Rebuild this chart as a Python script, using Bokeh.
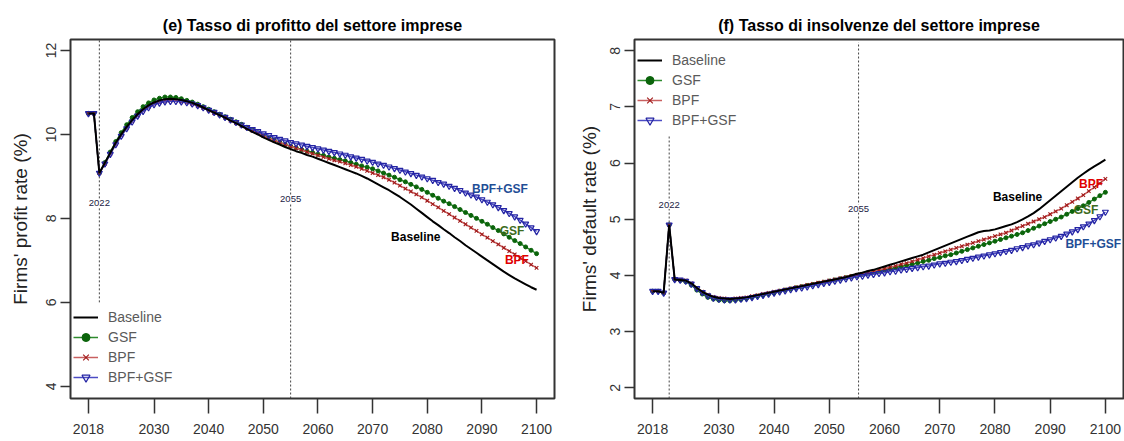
from bokeh.plotting import figure
from bokeh.layouts import row
from bokeh.models import FixedTicker, Legend, LegendItem, Range1d
from bokeh.embed import file_html
from bokeh.resources import INLINE
from bokeh.core.properties import value

# ---------------- data ----------------
years = list(range(2018, 2101))
x_ticks = [2018, 2030, 2040, 2050, 2060, 2070, 2080, 2090, 2100]

# (e) firms' profit rate (%)
profit_baseline = [10.50, 10.50,
    9.08, 9.32, 9.56, 9.80, 10.00, 10.18, 10.34, 10.48, 10.60, 10.69,
    10.76, 10.81, 10.84, 10.85, 10.84, 10.82, 10.79, 10.75, 10.70, 10.64,
    10.58, 10.52, 10.46, 10.40, 10.33, 10.27, 10.20, 10.13, 10.06, 10.00,
    9.93, 9.87, 9.81, 9.76, 9.70, 9.65, 9.60, 9.56, 9.51, 9.47,
    9.42, 9.37, 9.32, 9.27, 9.22, 9.17, 9.12, 9.07, 9.01, 8.95,
    8.88, 8.81, 8.74, 8.67, 8.59, 8.51, 8.42, 8.33, 8.23, 8.13,
    8.03, 7.93, 7.84, 7.74, 7.65, 7.55, 7.46, 7.36, 7.27, 7.18,
    7.09, 7.00, 6.91, 6.82, 6.73, 6.65, 6.57, 6.50, 6.43, 6.36,
    6.30]
profit_gsf = [10.50, 10.50,
    9.08, 9.33, 9.58, 9.83, 10.04, 10.23, 10.40, 10.54, 10.66, 10.75,
    10.82, 10.86, 10.89, 10.89, 10.88, 10.85, 10.81, 10.77, 10.72, 10.66,
    10.60, 10.54, 10.48, 10.42, 10.36, 10.30, 10.24, 10.17, 10.10, 10.04,
    9.97, 9.92, 9.86, 9.81, 9.76, 9.72, 9.68, 9.64, 9.60, 9.57,
    9.53, 9.50, 9.46, 9.43, 9.40, 9.37, 9.33, 9.29, 9.25, 9.22,
    9.18, 9.13, 9.08, 9.03, 8.98, 8.92, 8.87, 8.81, 8.75, 8.69,
    8.62, 8.55, 8.48, 8.41, 8.35, 8.28, 8.21, 8.14, 8.07, 8.00,
    7.93, 7.86, 7.78, 7.71, 7.63, 7.55, 7.47, 7.40, 7.32, 7.24,
    7.16]
profit_bpf = [10.50, 10.50,
    9.08, 9.30, 9.53, 9.77, 9.97, 10.15, 10.31, 10.45, 10.56, 10.65,
    10.72, 10.76, 10.79, 10.80, 10.80, 10.78, 10.76, 10.72, 10.68, 10.63,
    10.57, 10.51, 10.46, 10.40, 10.33, 10.27, 10.21, 10.15, 10.09, 10.03,
    9.97, 9.91, 9.86, 9.81, 9.76, 9.71, 9.67, 9.63, 9.58, 9.54,
    9.50, 9.46, 9.42, 9.38, 9.35, 9.31, 9.27, 9.23, 9.18, 9.13,
    9.08, 9.03, 8.98, 8.92, 8.85, 8.78, 8.71, 8.64, 8.57, 8.50,
    8.42, 8.34, 8.26, 8.18, 8.10, 8.02, 7.94, 7.86, 7.78, 7.70,
    7.62, 7.54, 7.46, 7.38, 7.30, 7.22, 7.14, 7.06, 6.98, 6.90,
    6.82]
profit_bpf_gsf = [10.50, 10.50,
    9.08, 9.30, 9.53, 9.76, 9.96, 10.14, 10.30, 10.44, 10.55, 10.64,
    10.71, 10.75, 10.78, 10.79, 10.79, 10.78, 10.76, 10.73, 10.69, 10.64,
    10.58, 10.53, 10.47, 10.41, 10.35, 10.29, 10.23, 10.17, 10.12, 10.07,
    10.02, 9.98, 9.93, 9.89, 9.85, 9.81, 9.78, 9.75, 9.72, 9.69,
    9.66, 9.63, 9.60, 9.57, 9.54, 9.51, 9.47, 9.44, 9.41, 9.37,
    9.34, 9.30, 9.27, 9.23, 9.19, 9.15, 9.11, 9.07, 9.03, 8.99,
    8.95, 8.91, 8.86, 8.82, 8.77, 8.72, 8.67, 8.61, 8.56, 8.51,
    8.45, 8.39, 8.33, 8.26, 8.19, 8.12, 8.04, 7.96, 7.87, 7.78,
    7.69]

# (f) firms' default rate (%)
default_baseline = [3.72, 3.72,
    3.69, 4.90, 3.93, 3.92, 3.91, 3.86, 3.78, 3.71, 3.66, 3.62,
    3.60, 3.59, 3.58, 3.59, 3.60, 3.61, 3.63, 3.65, 3.67, 3.69,
    3.71, 3.73, 3.75, 3.77, 3.79, 3.81, 3.83, 3.85, 3.87, 3.89,
    3.91, 3.93, 3.95, 3.97, 4.00, 4.03, 4.05, 4.08, 4.10, 4.13,
    4.16, 4.19, 4.22, 4.25, 4.28, 4.31, 4.34, 4.37, 4.41, 4.45,
    4.49, 4.53, 4.57, 4.61, 4.65, 4.69, 4.73, 4.77, 4.79, 4.80,
    4.82, 4.85, 4.88, 4.91, 4.95, 5.00, 5.05, 5.11, 5.18, 5.26,
    5.34, 5.42, 5.50, 5.58, 5.66, 5.74, 5.81, 5.88, 5.94, 6.00,
    6.06]
default_gsf = [3.72, 3.72,
    3.69, 4.90, 3.93, 3.91, 3.89, 3.83, 3.74, 3.67, 3.61, 3.58,
    3.56, 3.55, 3.55, 3.56, 3.57, 3.59, 3.61, 3.63, 3.65, 3.67,
    3.69, 3.72, 3.74, 3.76, 3.78, 3.80, 3.82, 3.84, 3.86, 3.88,
    3.90, 3.92, 3.94, 3.96, 3.98, 4.00, 4.02, 4.04, 4.06, 4.08,
    4.10, 4.12, 4.14, 4.16, 4.18, 4.20, 4.22, 4.25, 4.27, 4.30,
    4.32, 4.35, 4.37, 4.40, 4.43, 4.46, 4.49, 4.52, 4.55, 4.58,
    4.61, 4.64, 4.67, 4.70, 4.73, 4.76, 4.80, 4.84, 4.88, 4.92,
    4.96, 5.00, 5.04, 5.09, 5.14, 5.19, 5.24, 5.30, 5.36, 5.42,
    5.48]
default_bpf = [3.72, 3.72,
    3.69, 4.90, 3.93, 3.92, 3.91, 3.86, 3.78, 3.71, 3.66, 3.62,
    3.60, 3.59, 3.58, 3.59, 3.60, 3.61, 3.63, 3.65, 3.67, 3.69,
    3.71, 3.73, 3.75, 3.77, 3.79, 3.81, 3.83, 3.85, 3.87, 3.89,
    3.91, 3.93, 3.95, 3.97, 3.99, 4.01, 4.03, 4.05, 4.07, 4.10,
    4.12, 4.15, 4.17, 4.20, 4.22, 4.25, 4.28, 4.31, 4.34, 4.37,
    4.40, 4.43, 4.46, 4.49, 4.52, 4.55, 4.58, 4.61, 4.64, 4.67,
    4.70, 4.73, 4.76, 4.80, 4.84, 4.88, 4.92, 4.96, 5.00, 5.04,
    5.09, 5.14, 5.19, 5.25, 5.31, 5.37, 5.43, 5.50, 5.57, 5.64,
    5.72]
default_bpf_gsf = [3.72, 3.72,
    3.69, 4.90, 3.93, 3.92, 3.90, 3.85, 3.77, 3.70, 3.64, 3.60,
    3.58, 3.57, 3.57, 3.57, 3.58, 3.59, 3.61, 3.63, 3.65, 3.67,
    3.69, 3.71, 3.73, 3.75, 3.77, 3.78, 3.80, 3.82, 3.84, 3.86,
    3.88, 3.90, 3.92, 3.94, 3.96, 3.98, 3.99, 4.01, 4.02, 4.04,
    4.05, 4.07, 4.08, 4.10, 4.11, 4.13, 4.14, 4.16, 4.17, 4.19,
    4.21, 4.22, 4.24, 4.25, 4.27, 4.29, 4.31, 4.33, 4.35, 4.37,
    4.39, 4.41, 4.43, 4.45, 4.48, 4.50, 4.53, 4.55, 4.58, 4.61,
    4.64, 4.67, 4.70, 4.74, 4.78, 4.82, 4.87, 4.92, 4.98, 5.05,
    5.13]

series_names = ["Baseline", "GSF", "BPF", "BPF+GSF"]

# reference years marked with dotted lines
left_event_x = [2020, 2055]
left_event_lo = [6.0, 3.71]
left_event_hi = [12.26, 12.26]
left_event_text = ["2022", "2055"]
left_event_label_y = [8.36, 8.45]

right_event_x = [2021, 2055.3]
right_event_lo = [1.81, 1.81]
right_event_hi = [6.5, 8.15]
right_event_text = ["2022", "2055"]
right_event_label_y = [5.26, 5.19]

# end-of-line series labels
left_lab_text = ["BPF+GSF", "GSF", "BPF", "Baseline"]
left_lab_x = [2093.3, 2095.5, 2096.4, 2077.9]
left_lab_y = [8.71, 7.71, 7.02, 7.55]
right_lab_text = ["Baseline", "BPF", "GSF", "BPF+GSF"]
right_lab_x = [2084.1, 2097.4, 2096.5, 2097.8]
right_lab_y = [5.40, 5.62, 5.17, 4.56]

# ---------------- style ----------------
FONT = "Liberation Sans"
LINE_COL = {"Baseline": "black", "GSF": "#2e8b2e", "BPF": "#c86060", "BPF+GSF": "#4c4cc4"}
MARK_COL = {"GSF": "#0b640b", "BPF": "#a01818", "BPF+GSF": "#2424a4"}
LAB_COL = {"Baseline": "black", "GSF": "#3d6b1e", "BPF": "#e00000", "BPF+GSF": "#1f4e96"}


def make_panel(title, ylabel, y_lo, y_hi, yticks, data, ev, labs, legend_loc,
               bl, br, axis_std):
    p = figure(width=562, height=441, output_backend="svg", toolbar_location=None,
               x_range=Range1d(2014.72, 2103.28), y_range=Range1d(y_lo, y_hi),
               min_border_left=bl, min_border_right=br, min_border_top=39,
               min_border_bottom=43)
    p.title.text = title
    p.title.align = "center"
    p.title.text_font = FONT
    p.title.text_font_size = "16px"
    p.title.text_font_style = "bold"
    p.title.text_color = "black"
    p.title.standoff = 12
    p.grid.visible = False
    p.outline_line_color = "#333333"
    p.outline_line_width = 2
    p.outline_line_alpha = 1

    p.xaxis.ticker = FixedTicker(ticks=x_ticks)
    p.yaxis.ticker = FixedTicker(ticks=yticks)
    for ax in (p.xaxis[0], p.yaxis[0]):
        ax.axis_line_color = None
        ax.major_tick_line_color = "#333333"
        ax.major_tick_line_width = 1.5
        ax.minor_tick_line_color = None
        ax.major_tick_in = 0
        ax.major_label_text_font = FONT
        ax.major_label_text_font_size = "14px"
        ax.major_label_text_color = "#333333"
    p.xaxis.major_tick_out = 15
    p.xaxis.major_label_standoff = 10
    p.yaxis.major_tick_out = 10
    p.yaxis.major_label_standoff = 4
    p.yaxis.major_label_orientation = "vertical"
    p.yaxis.axis_label = ylabel
    p.yaxis.axis_label_text_font = FONT
    p.yaxis.axis_label_text_font_size = "19px"
    p.yaxis.axis_label_text_font_style = "normal"
    p.yaxis.axis_label_text_color = "#222222"
    p.yaxis.axis_label_standoff = axis_std

    # dotted reference lines
    ex, elo, ehi, etxt, ely = ev
    p.segment(x0=ex, y0=elo, x1=ex, y1=ehi, line_color="#444444",
              line_width=1, line_dash="2 2")
    p.text(x=ex, y=ely, text=etxt, text_align="center", text_baseline="middle",
           text_font=value(FONT), text_font_size="9.5px", text_color="#222244",
           background_fill_color="white", padding=1)

    base, gsf, bpf, both = data
    r_gsf_l = p.line(years, gsf, line_color=LINE_COL["GSF"], line_width=1.5)
    r_gsf_m = p.scatter(years, gsf, marker="circle", size=4,
                        fill_color=MARK_COL["GSF"], line_color=MARK_COL["GSF"])
    r_bpf_l = p.line(years, bpf, line_color=LINE_COL["BPF"], line_width=1.5)
    r_bpf_m = p.scatter(years, bpf, marker="x", size=5,
                        line_color=MARK_COL["BPF"], line_width=1.1)
    r_bg_l = p.line(years, both, line_color=LINE_COL["BPF+GSF"], line_width=1.5)
    r_bg_m = p.scatter(years, both, marker="inverted_triangle", size=6,
                       fill_color=None, line_color=MARK_COL["BPF+GSF"], line_width=1.2)
    r_base = p.line(years, base, line_color=LINE_COL["Baseline"], line_width=2)

    lt, lx, ly = labs
    p.text(x=lx, y=ly, text=lt, text_align="center", text_baseline="middle",
           text_font=value(FONT), text_font_size="12px", text_font_style="bold",
           text_color=[LAB_COL[t] for t in lt])

    legend = Legend(items=[
        LegendItem(label=series_names[0], renderers=[r_base]),
        LegendItem(label=series_names[1], renderers=[r_gsf_l, r_gsf_m]),
        LegendItem(label=series_names[2], renderers=[r_bpf_l, r_bpf_m]),
        LegendItem(label=series_names[3], renderers=[r_bg_l, r_bg_m]),
    ], location=legend_loc)
    legend.border_line_color = None
    legend.background_fill_alpha = 0
    legend.padding = 0
    legend.margin = 0
    legend.spacing = 0
    legend.glyph_width = 25
    legend.glyph_height = 20
    legend.label_height = 20
    legend.label_standoff = 10
    legend.label_text_font = FONT
    legend.label_text_font_size = "14px"
    legend.label_text_color = "#5a5a5a"
    p.add_layout(legend)
    return p


p1 = make_panel("(e) Tasso di profitto del settore imprese", "Firms' profit rate (%)",
                3.71, 12.26, [4, 6, 8, 10, 12],
                (profit_baseline, profit_gsf, profit_bpf, profit_bpf_gsf),
                (left_event_x, left_event_lo, left_event_hi, left_event_text, left_event_label_y),
                (left_lab_text, left_lab_x, left_lab_y),
                (3, 11), 70, 8, 13)
p2 = make_panel("(f) Tasso di insolvenze del settore imprese", "Firms' default rate (%)",
                1.81, 8.2, [2, 3, 4, 5, 6, 7, 8],
                (default_baseline, default_gsf, default_bpf, default_bpf_gsf),
                (right_event_x, right_event_lo, right_event_hi, right_event_text, right_event_label_y),
                (right_lab_text, right_lab_x, right_lab_y),
                (3, 268), 72, 1, 8)

layout = row(p1, p2, spacing=0)
open("out.html", "w").write(file_html(layout, INLINE))
